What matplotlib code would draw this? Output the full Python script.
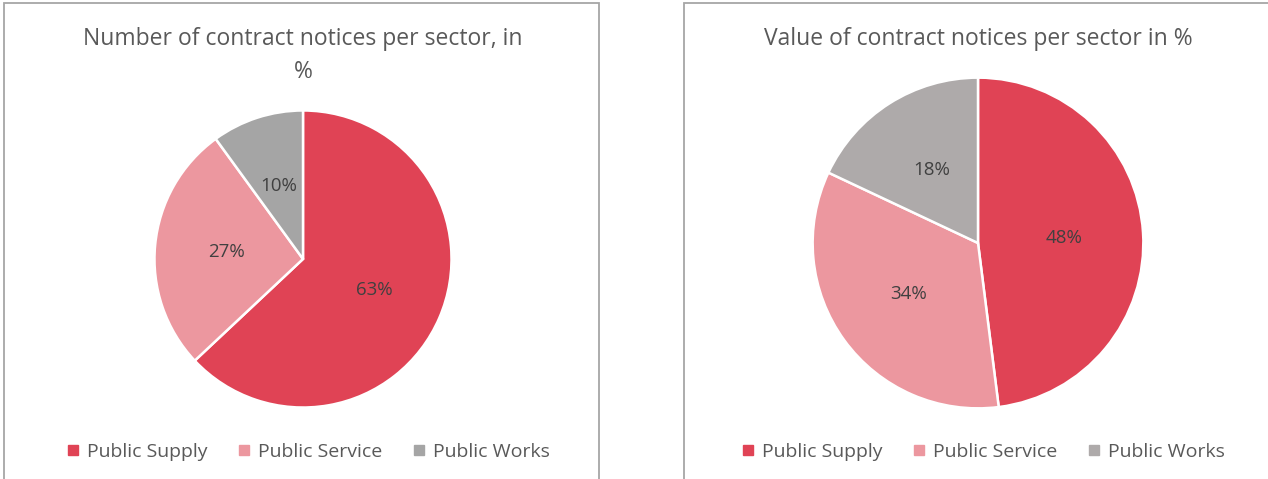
import matplotlib.pyplot as plt
from matplotlib.lines import Line2D
from matplotlib.patches import Rectangle

plt.rcParams["font.family"] = ["Open Sans", "DejaVu Sans"]

sectors = ["Public Supply", "Public Service", "Public Works"]
count_share = [63, 27, 10]
value_share = [48, 34, 18]

count_colors = ["#E04355", "#EC979F", "#A5A5A5"]
value_colors = ["#E04355", "#EC979F", "#AEAAAA"]

W, H = 1268, 479
fig = plt.figure(figsize=(W / 100, H / 100), dpi=100)
fig.patch.set_facecolor("white")


def px_box(x0, y0, w, h):
    # pixel box (top-left origin) -> figure fraction
    return [x0 / W, 1 - (y0 + h) / H, w / W, h / H]


def draw_pie(box, values, colors):
    ax = fig.add_axes(px_box(*box))
    ax.pie(values, colors=colors, startangle=90, counterclock=False,
           autopct="%d%%", pctdistance=0.52,
           wedgeprops=dict(edgecolor="white", linewidth=1.8),
           textprops=dict(color="#404040", fontsize=13.5))
    ax.set_xlim(-1.01, 1.01)
    ax.set_ylim(-1.01, 1.01)
    ax.set_aspect("equal")
    ax.axis("off")


# panel borders
for x0, x1 in [(4, 599), (684, 1275)]:
    fig.patches.append(Rectangle((x0 / W, -0.05), (x1 - x0) / W, 1 - 3 / H + 0.05,
                                 transform=fig.transFigure, fill=False,
                                 edgecolor="#A6A6A6", linewidth=1.3))

draw_pie((153, 109, 300, 300), count_share, count_colors)
draw_pie((811, 76, 334, 334), value_share, value_colors)

fig.text(303 / W, 1 - 39 / H, "Number of contract notices per sector, in",
         ha="center", va="center", fontsize=16.5, color="#595959")
fig.text(303 / W, 1 - 72 / H, "%", ha="center", va="center",
         fontsize=16.5, color="#595959")
fig.text(978 / W, 1 - 39 / H, "Value of contract notices per sector in %",
         ha="center", va="center", fontsize=16.5, color="#595959")

for cx, cols in [(308, count_colors), (983, value_colors)]:
    handles = [Line2D([], [], marker="s", linestyle="none", markersize=7.5,
                      markerfacecolor=c, markeredgecolor=c) for c in cols]
    fig.legend(handles, sectors, loc="center", ncol=3, frameon=False,
               bbox_to_anchor=(cx / W, 1 - 452 / H), fontsize=14,
               labelcolor="#595959", handlelength=0.7, handletextpad=0.4,
               columnspacing=1.5)

fig.savefig("out.png", dpi=100, facecolor="white")
